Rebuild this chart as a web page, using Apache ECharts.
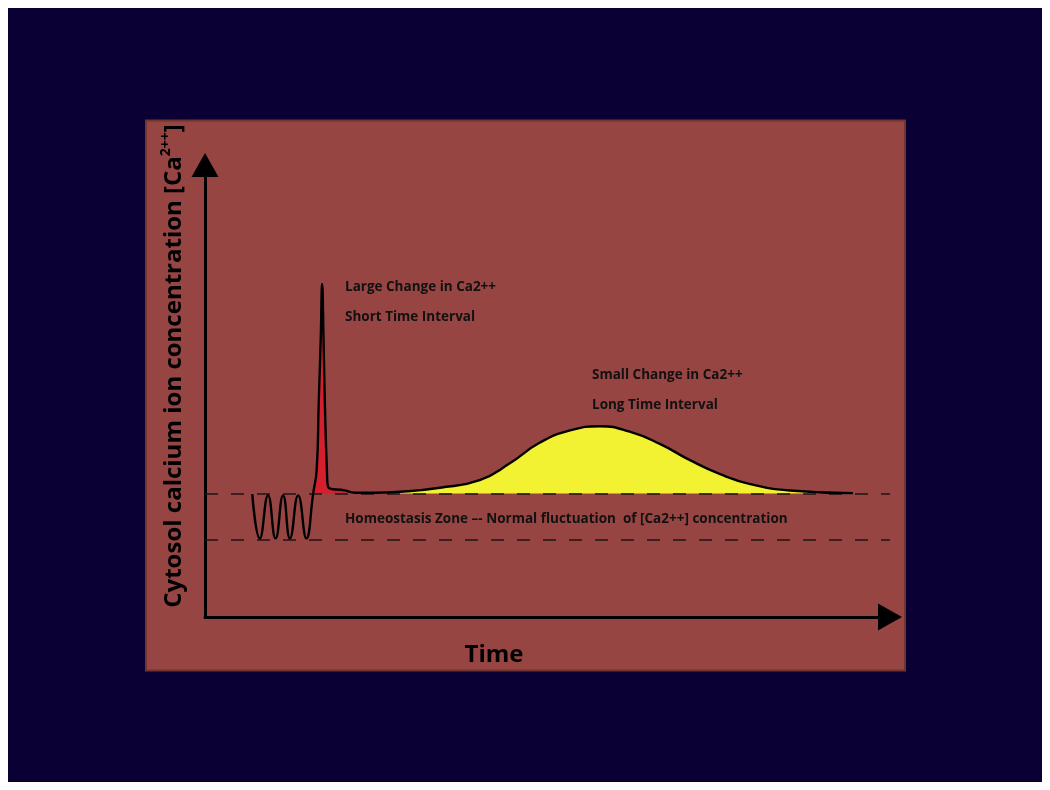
<!DOCTYPE html>
<html>
<head>
<meta charset="utf-8">
<title>Cytosol calcium</title>
<script src="https://cdn.jsdelivr.net/npm/echarts@6/dist/echarts.min.js"></script>
<style>
  html, body { margin: 0; padding: 0; background: #fff; }
  #chart { width: 1050px; height: 790px; }
</style>
</head>
<body>
<div id="chart"></div>
<script>
// curve (arbitrary units, x: time 0-100, y: [Ca2++] 0-100)
const curveX = [6.9, 8.0, 9.2, 10.3, 11.4, 12.4, 13.6, 14.8, 15.8, 16.3, 16.6, 16.9, 17.1, 17.3, 17.5, 17.8, 18.0, 20.4, 21.9, 24.8, 28.5, 34.3, 40.1, 44.5, 48.9, 53.3, 57.7, 62.0, 66.4, 70.8, 75.2, 79.6, 85.4, 94.6]
const curveY = [27.2, 17.4, 26.9, 17.4, 26.9, 17.4, 26.9, 17.4, 27.4, 32.5, 47.3, 61.9, 73.7, 61.9, 47.3, 32.5, 28.7, 28.0, 27.5, 27.5, 27.7, 28.6, 30.3, 34.0, 38.6, 41.3, 42.2, 41.0, 38.3, 34.7, 31.6, 29.4, 28.0, 27.4]

// homeostasis zone limits
const homeoUpper = 27.3
const homeoLower = 17.0

// annotations
const spikeLabels = ['Large Change in Ca2++', 'Short Time Interval']
const bumpLabels = ['Small Change in Ca2++', 'Long Time Interval']
const zoneLabel = 'Homeostasis Zone –- Normal fluctuation  of [Ca2++] concentration'

const curve = curveX.map((x, i) => [x, curveY[i]])
const redFill = curve.filter(p => p[0] >= 15.8 && p[0] <= 20.4)
const yellowFill = curve.filter(p => p[0] >= 24.8)

const font = '"Open Sans", "DejaVu Sans", sans-serif'
const labelFont = 'bold 13.5px ' + font
const chart = echarts.init(document.getElementById('chart'))

const option = {
  backgroundColor: '#ffffff',
  animation: false,
  graphic: [
    { type: 'rect', z: -20, shape: { x: 8, y: 8, width: 1034, height: 774 }, style: { fill: '#0a0034' } },
    { type: 'rect', z: -10, shape: { x: 146, y: 120.5, width: 759, height: 550 }, style: { fill: '#974543', stroke: '#733331', lineWidth: 2 } },
    { type: 'text', z: 50, x: 345, y: 287, style: { text: spikeLabels[0], fill: '#111', font: labelFont, verticalAlign: 'middle' } },
    { type: 'text', z: 50, x: 345, y: 317, style: { text: spikeLabels[1], fill: '#111', font: labelFont, verticalAlign: 'middle' } },
    { type: 'text', z: 50, x: 592, y: 375, style: { text: bumpLabels[0], fill: '#111', font: labelFont, verticalAlign: 'middle' } },
    { type: 'text', z: 50, x: 592, y: 405, style: { text: bumpLabels[1], fill: '#111', font: labelFont, verticalAlign: 'middle' } },
    { type: 'text', z: 50, x: 345, y: 519, style: { text: zoneLabel, fill: '#111', font: labelFont, verticalAlign: 'middle' } }
  ],
  grid: {
    left: 205,
    right: 160,
    top: 165,
    bottom: 173
  },
  xAxis: {
    type: 'value',
    min: 0,
    max: 100,
    name: 'Time',
    nameLocation: 'middle',
    nameGap: 26,
    nameTextStyle: {
      color: '#000',
      fontSize: 24,
      fontWeight: 'bold',
      fontFamily: font,
      padding: [0, 107, 0, 0]
    },
    axisLine: {
      show: true,
      onZero: false,
      symbol: ['none', 'triangle'],
      symbolSize: [27, 24],
      lineStyle: { color: '#000', width: 3 }
    },
    axisTick: { show: false },
    axisLabel: { show: false },
    splitLine: { show: false }
  },
  yAxis: {
    type: 'value',
    min: 0,
    max: 100,
    name: '{m|Cytosol calcium ion concentration [Ca}{s|2++}{m|]}',
    nameLocation: 'middle',
    nameGap: 16,
    nameTextStyle: {
      color: '#000',
      fontSize: 24,
      fontWeight: 'bold',
      fontFamily: font,
      padding: [0, 0, 0, 50],
      rich: {
        m: { fontSize: 24, fontWeight: 'bold', fontFamily: font, color: '#000', lineHeight: 30 },
        s: { fontSize: 14, fontWeight: 'bold', fontFamily: font, color: '#000', verticalAlign: 'top', lineHeight: 30 }
      }
    },
    axisLine: {
      show: true,
      onZero: false,
      symbol: ['none', 'triangle'],
      symbolSize: [27, 24],
      lineStyle: { color: '#000', width: 3 }
    },
    axisTick: { show: false },
    axisLabel: { show: false },
    splitLine: { show: false }
  },
  series: [
    {
      // spike fill
      type: 'line',
      data: redFill,
      smooth: 0.5,
      showSymbol: false,
      lineStyle: { width: 0 },
      areaStyle: { color: '#d4202c', origin: homeoUpper, opacity: 1 },
      z: 3
    },
    {
      // bump fill
      type: 'line',
      data: yellowFill,
      smooth: 0.5,
      showSymbol: false,
      lineStyle: { width: 0 },
      areaStyle: { color: '#f3f232', origin: homeoUpper, opacity: 1 },
      z: 3
    },
    {
      type: 'line',
      data: curve,
      smooth: 0.5,
      showSymbol: false,
      lineStyle: { color: '#000', width: 2.4 },
      z: 5,
      markLine: {
        silent: true,
        symbol: ['none', 'none'],
        label: { show: false },
        lineStyle: { color: '#1e1414', width: 1.5, type: [13, 13] },
        data: [{ yAxis: homeoUpper }, { yAxis: homeoLower }]
      }
    }
  ]
}

chart.setOption(option)
</script>
</body>
</html>
